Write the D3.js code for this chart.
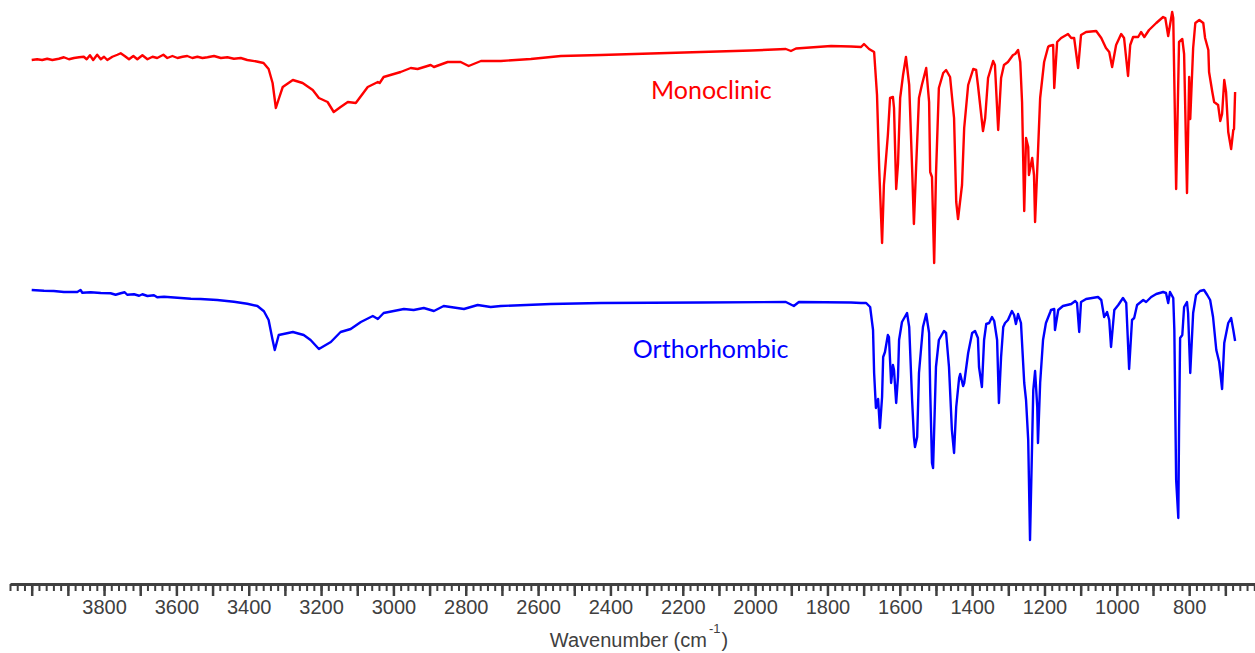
<!DOCTYPE html>
<html>
<head>
<meta charset="utf-8">
<script src="https://cdn.jsdelivr.net/npm/d3@7.9.0/dist/d3.min.js"></script>
<style>
  body { margin: 0; background: #fff; }
  svg { display: block; }
  .axis text { font-family: "Liberation Sans", Arial, sans-serif; font-size: 20px; fill: #404040; }
  .axis line, .axis path { stroke: #404040; }
  .title { font-family: "Liberation Sans", Arial, sans-serif; font-size: 20px; fill: #404040; }
  .label { font-family: Lato, "Open Sans", sans-serif; font-size: 25px; }
</style>
</head>
<body>
<svg id="chart" width="1255" height="653"></svg>
<script>
// IR spectra, wavenumber (cm-1) vs. transmittance (arbitrary %, each trace on its own band)
const monoWn = [4000,3985,3971,3957,3943,3925,3911,3897,3883,3869,3856,3848,3839,3830,3819,3809,3800,3791,3777,3763,
  3754,3743,3731,3719,3708,3694,3680,3666,3653,3636,3625,3611,3597,3583,3570,3556,3542,3528,3514,3496,
  3477,3459,3441,3422,3404,3378,3359,3345,3334,3325,3317,3306,3278,3251,3223,3206,3182,3165,3146,3126,
  3104,3071,3043,3038,3027,2980,2952,2933,2897,2888,2850,2814,2792,2758,2703,2620,2537,2426,2288,2150,
  2011,1915,1901,1887,1790,1735,1707,1699,1685,1671,1663,1657,1649,1644,1633,1627,1619,1616,1610,1605,
  1599,1591,1583,1574,1566,1561,1555,1547,1539,1527,1519,1516,1511,1505,1500,1492,1480,1472,1461,1450,
  1444,1439,1428,1422,1411,1397,1389,1384,1370,1364,1356,1342,1337,1328,1320,1312,1301,1287,1281,1273,
  1267,1262,1256,1251,1245,1243,1234,1229,1226,1218,1212,1201,1190,1187,1176,1173,1165,1154,1135,1126,
  1118,1107,1099,1085,1057,1043,1030,1021,1013,1002,988,980,969,963,955,941,933,924,911,891,
  872,866,858,847,844,836,828,819,814,806,800,797,789,783,772,761,756,747,745,736,
  731,720,714,709,703,698,692,684,678,676,673];
const monoT = [84,84.3,84,84.5,84,84.5,85.1,84.3,84.8,85.1,85.3,84.3,85.9,84,86.1,84.3,85.3,84,85.3,86.1,
  86.7,85.6,84.3,85.6,84.3,85.9,84.3,85.3,84.8,86.1,84.8,85.6,84.8,85.3,85.6,84.8,85.3,84.8,85.1,85.6,
  84.8,85.1,84.5,84.8,84,83.4,82.8,80.4,74.8,64.8,68.4,73.2,76,74.8,72,68.8,67.2,63.2,65.2,67.2,
  66.8,73.2,75.2,74.8,77.2,79.2,80.8,80.4,82,81.2,83.2,83.2,81.6,83.6,83.6,84.4,85.6,86,86.6,87.2,
  87.8,88.4,87.6,88.6,89.6,89.4,89.2,90.4,88.4,87.2,70,40.8,10.8,34,54,68.8,69.2,64.8,32.4,42.4,
  68.8,78,85.2,74,40.8,18.4,40.8,68.8,74,80.8,67.2,39.2,37.2,2.8,38,72.8,78.8,80,77.2,60.8,
  27.2,20.4,34,56.8,74,80.4,80,74,55.6,60.8,76.8,83.6,82,56,76.8,82,83.2,86,86.4,88,
  83.2,67.2,23.6,52.8,49.2,38,44.8,38,19.2,47.2,68.8,83.2,89.2,89.6,90,72.8,91.2,92.8,94.4,92.8,
  92.8,80.8,94,95.2,95.6,92.8,88.8,87.2,81.2,90,94.4,92.8,77.6,90,93.2,93.2,95.2,93.2,96,98.8,
  101.2,100.8,93.6,103.2,100.8,32.4,91.2,92.4,86.4,30.8,77.2,60.4,88.8,98.8,100,98.8,92.8,88,79.2,71.2,
  67.2,66,59.6,62.4,76,71.2,55.2,48.4,56,56.4,71.2];

const orthoWn = [4000,3966,3939,3911,3874,3865,3860,3837,3809,3782,3768,3754,3743,3736,3717,3703,3694,3680,3662,3653,
  3634,3597,3560,3533,3487,3441,3404,3376,3358,3345,3334,3328,3317,3278,3248,3229,3206,3173,3146,3118,
  3090,3057,3043,3027,2971,2944,2916,2888,2861,2805,2767,2731,2703,2565,2426,2150,1915,1893,1879,1735,
  1707,1693,1682,1674,1671,1666,1660,1655,1649,1646,1641,1633,1630,1624,1619,1616,1610,1605,1602,1594,
  1580,1574,1566,1561,1558,1552,1547,1536,1527,1519,1516,1511,1508,1505,1500,1492,1478,1472,1464,1456,
  1450,1444,1436,1433,1425,1422,1411,1400,1392,1384,1381,1373,1367,1361,1353,1345,1339,1331,1326,1320,
  1314,1309,1301,1290,1284,1279,1273,1265,1256,1251,1245,1240,1234,1231,1226,1220,1218,1212,1204,1196,
  1184,1182,1173,1171,1162,1149,1126,1115,1110,1104,1099,1085,1052,1043,1035,1027,1021,1016,1007,996,
  983,974,966,958,952,944,927,919,905,891,872,864,858,853,844,841,836,830,828,825,
  819,814,806,803,797,789,781,770,759,750,742,734,725,717,709,703,692,684,678,673];
const orthoT = [100,99.7,99.6,99.2,99.2,100,98.9,99.1,98.8,98.7,98.1,98.7,99.1,98.1,98.3,97.7,98.3,97.6,97.9,97.1,
  97.3,96.9,96.5,96.4,96,95.3,94.5,93.6,91.5,88,80,76,82,83.2,82,80,76.4,79.2,83.2,84.4,
  87.2,89.6,88.4,90.8,92.4,92,92.8,91.6,93.6,92.4,94,93.2,93.6,94.4,94.8,95,95.2,93.6,95.2,95,
  94.8,94.8,93.2,84,66.8,52.8,56.4,44.8,57.2,73.2,75.2,82,81.2,62.8,70,68,54.8,65.2,80,87.2,
  90.8,85.2,56,41.2,37.2,41.2,66.8,85.2,90.4,82.8,60,30.8,28.8,44,69.2,80,83.6,82.8,69.2,44,
  34.8,53.2,64.8,66.4,61.6,62.8,74.8,82.8,83.6,80.8,69.2,61.2,80,86.4,86.8,89.2,87.6,80,54.8,73.2,
  85.2,86.8,88,91.6,90,86.4,90.4,86.8,62.8,56,40,0,40,60,67.6,53.2,38.8,62.8,80,86.8,
  91.2,92,92.4,84,92,93.6,94.4,95.6,94.8,83.2,95.2,96.4,97.2,96,89.2,91.2,88,77.2,92,94,
  96.8,94.8,68.4,88,88.8,94,96,95.2,97.2,98.4,99.2,98.8,94.8,99.2,96.8,84,24,8.8,44,80.8,
  82,93.2,95.2,90.8,66.8,90.8,98,99.6,100,98,96,89.2,76,71.2,60.4,78.8,86.8,88.8,84,79.6];

const majorTicks = d3.range(4000, 600, -100);
const minorTicks = d3.range(4060, 600, -20);
const labelTicks = d3.range(3800, 700, -200);

const svg = d3.select('#chart');

const x = d3.scaleLinear().domain([4060, 618]).range([10, 1255]);
const yMono = d3.scaleLinear().domain([0, 100]).range([270, 20]);
const yOrtho = d3.scaleLinear().domain([0, 100]).range([540, 290]);

function drawTrace(wn, t, y, color) {
  const line = d3.line()
    .x((d) => x(d[0]))
    .y((d) => y(d[1]));
  svg.append('path')
    .datum(d3.zip(wn, t))
    .attr('d', line)
    .attr('fill', 'none')
    .attr('stroke', color)
    .attr('stroke-width', 2.4)
    .attr('stroke-linejoin', 'round');
}

drawTrace(monoWn, monoT, yMono, '#ff0000');
drawTrace(orthoWn, orthoT, yOrtho, '#0000ff');

// labels
svg.append('text').attr('class', 'label')
  .attr('x', x(2288)).attr('y', 99)
  .attr('fill', '#ff0000')
  .text('Monoclinic');
svg.append('text').attr('class', 'label')
  .attr('x', x(2338)).attr('y', 358)
  .attr('fill', '#0000ff')
  .text('Orthorhombic');

// x axis: minor ticks, then major ticks with labels
const axisY = 584;
const minorAxis = svg.append('g').attr('class', 'axis')
  .attr('transform', `translate(0,${axisY})`)
  .call(d3.axisBottom(x).tickValues(minorTicks).tickSize(7).tickSizeOuter(0).tickFormat(''));
minorAxis.selectAll('.tick line').attr('stroke-width', 2);
minorAxis.select('.domain').attr('stroke-width', 3);

const majorAxis = svg.append('g').attr('class', 'axis')
  .attr('transform', `translate(0,${axisY})`)
  .call(d3.axisBottom(x).tickValues(majorTicks).tickSize(12).tickSizeOuter(0).tickPadding(4)
    .tickFormat((d) => labelTicks.includes(d) ? d : ''));
majorAxis.select('.domain').remove();
majorAxis.selectAll('.tick line').attr('stroke-width', 2.5);

const title = svg.append('text').attr('class', 'title')
  .attr('x', 639).attr('y', 647)
  .attr('text-anchor', 'middle');
title.append('tspan').text('Wavenumber (cm');
title.append('tspan').attr('font-size', 13).attr('dy', -14).attr('dx', 2).text('-1');
title.append('tspan').attr('dy', 14).attr('dx', 1).text(')');
</script>
</body>
</html>
